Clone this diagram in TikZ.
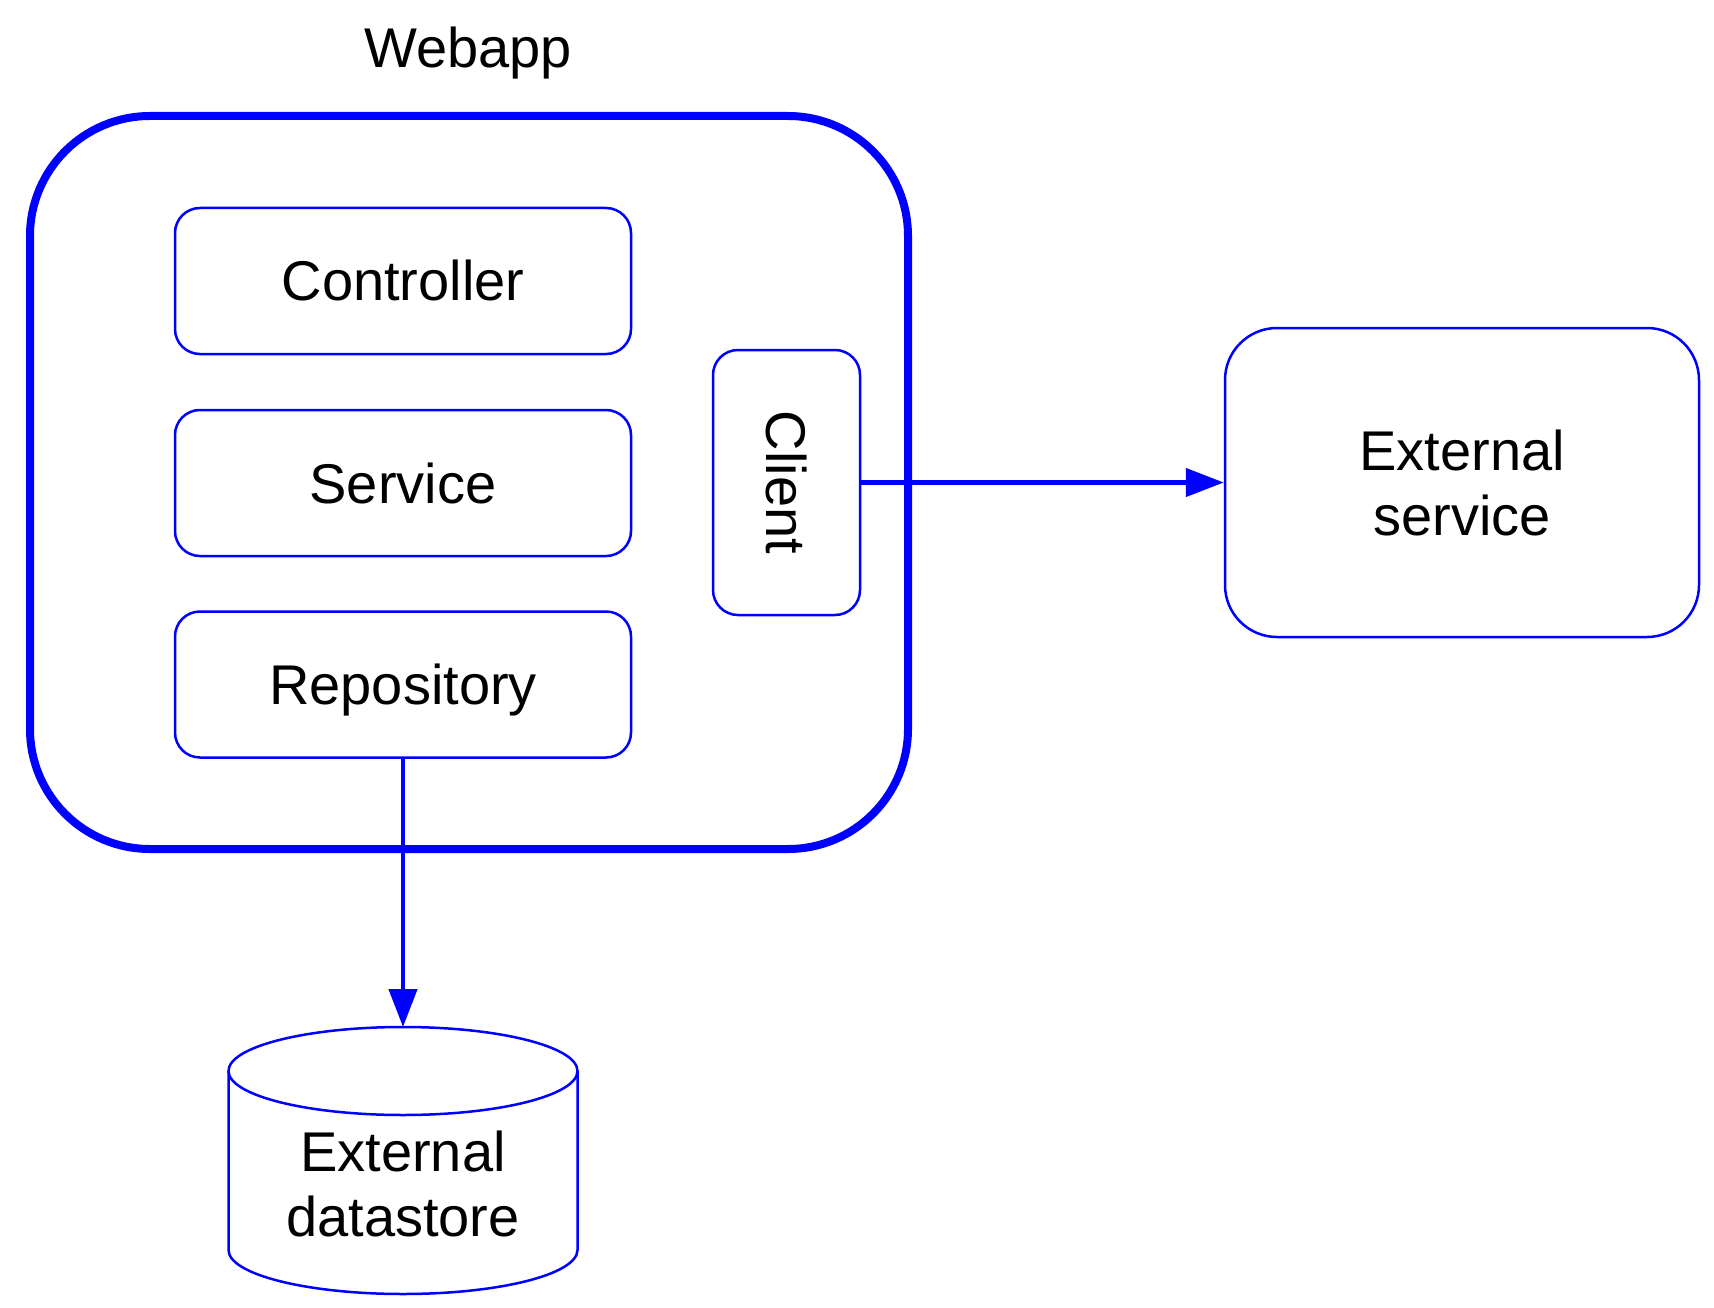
\documentclass[tikz,border=0pt]{standalone}
\usepackage{fontspec}
\setmainfont{Liberation Sans}
\usetikzlibrary{arrows.meta}
\definecolor{lineblue}{RGB}{0,0,255}
\tikzset{
  box/.style={draw=lineblue, line width=2.5pt, rectangle, inner sep=0pt,
    text height=40pt, text depth=0pt, align=center},
  outerbox/.style={draw=lineblue, line width=8pt, rectangle, inner sep=0pt,
    minimum width=878pt, minimum height=733pt, rounded corners=120pt},
  layer/.style={box, minimum width=456pt, minimum height=146pt, rounded corners=25pt},
  conn/.style={draw=lineblue, line width=4.5pt, -{Triangle[length=38pt,width=28pt]}},
  lbl/.style={inner sep=0pt},
  mlbl/.style={inner sep=0pt, align=center, text height=41pt, text depth=0pt},
}
\begin{document}
\begin{tikzpicture}[x=1pt,y=-1pt,font=\fontsize{56pt}{65pt}\selectfont]
\useasboundingbox (0,0) rectangle (1714,1308);
\node[lbl, anchor=base] (title) at (468,68) {Webapp};
\node[outerbox] (webapp) at (469,482.5) {};
\node[layer] (controller) at (403,281) {Controller};
\node[layer] (service) at (403,483) {Service};
\node[layer] (repository) at (403,684.5) {Repository};
\node[box, minimum width=147pt, minimum height=265pt, rounded corners=25pt] (client) at (786.5,482.5) {};
\node[lbl, rotate=-90, text height=40pt, text depth=0pt] (clienttext) at (786.5,482.5) {Client};
\node[box, minimum width=474pt, minimum height=309pt, rounded corners=52pt] (extsvc) at (1462,482.5) {};
\node[mlbl] (extsvctext) at (1462,515) {External\\service};
% cylinder
\draw[draw=lineblue, line width=2.5pt, fill=white]
  (228.5,1071) -- (228.5,1250) arc[start angle=180, end angle=360, x radius=174.5pt, y radius=44pt]
  -- (577.5,1071) arc[start angle=0, end angle=180, x radius=174.5pt, y radius=44pt] -- cycle;
\draw[draw=lineblue, line width=2.5pt]
  (228.5,1071) arc[start angle=180, end angle=360, x radius=174.5pt, y radius=44pt];
\coordinate (dbtop) at (403,1027);
\node[mlbl] (datastore) at (403,1215.5) {External\\datastore};
\draw[conn] (client.east) -- (extsvc.west);
\draw[conn] (repository.south) -- (dbtop);
\end{tikzpicture}
\end{document}
